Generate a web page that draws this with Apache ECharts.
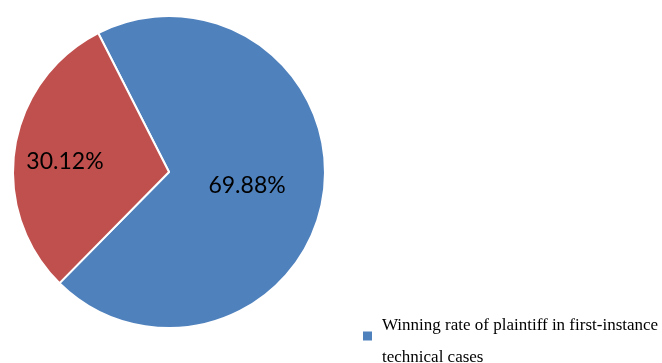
<!DOCTYPE html>
<html>
<head>
<meta charset="utf-8">
<script src="https://cdn.jsdelivr.net/npm/echarts@6/dist/echarts.min.js"></script>
<style>
  html, body { margin: 0; padding: 0; background: #fff; }
  #chart { width: 662px; height: 363px; }
</style>
</head>
<body>
<div id="chart"></div>
<script>
// Share of first-instance technical cases won by the plaintiff
const sliceNames = [
  'Winning rate of plaintiff in first-instance technical cases',
  'Other outcomes'
];
const sliceValues = [69.88, 30.12];
const sliceColors = ['#4F81BD', '#C0504D'];
const legendNames = [sliceNames[0]];
const legendLines = ['Winning rate of plaintiff in first-instance', 'technical cases'];

const chart = echarts.init(document.getElementById('chart'), null, { renderer: 'canvas' });

const serif = 'Liberation Serif';

chart.setOption({
  animation: false,
  legend: {
    data: legendNames,
    orient: 'vertical',
    left: 356,
    top: 312.5,
    icon: 'rect',
    itemWidth: 11,
    itemHeight: 11,
    formatter: function () {
      return '{a|' + legendLines[0] + '}\n{b|' + legendLines[1] + '}';
    },
    textStyle: {
      fontFamily: serif,
      fontSize: 17,
      color: '#000',
      padding: [0, 0, 0, 4],
      rich: {
        a: { fontFamily: serif, fontSize: 17, color: '#000', lineHeight: 44 },
        b: { fontFamily: serif, fontSize: 17, color: '#000', lineHeight: 20 }
      }
    }
  },
  series: [{
    type: 'pie',
    center: [169, 172],
    radius: [0, 156],
    startAngle: 117,
    clockwise: true,
    avoidLabelOverlap: false,
    itemStyle: { borderColor: '#fff', borderWidth: 2 },
    label: {
      show: true,
      position: 'inside',
      formatter: function (p) { return p.value.toFixed(2) + '%'; },
      fontFamily: 'Lato',
      fontSize: 23,
      color: '#000'
    },
    labelLayout: function (params) {
      if (params.dataIndex === 1) return { dx: -24, dy: 2 };
      return { dx: -2, dy: 1 };
    },
    emphasis: { disabled: true },
    data: sliceValues.map(function (v, i) {
      return { name: sliceNames[i], value: v, itemStyle: { color: sliceColors[i] } };
    })
  }]
});
</script>
</body>
</html>
